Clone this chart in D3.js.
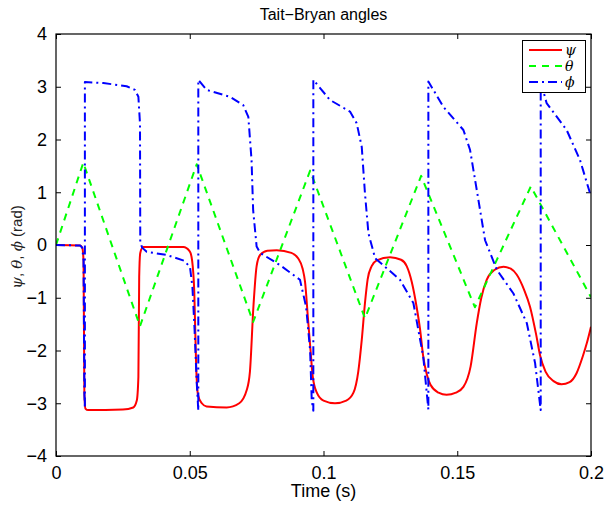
<!DOCTYPE html>
<html>
<head>
<meta charset="utf-8">
<script src="https://cdn.jsdelivr.net/npm/d3@7"></script>
<style>
  body { margin: 0; background: #fff; }
  text { font-family: "Liberation Sans", Arial, sans-serif; }
</style>
</head>
<body>
<div id="chart"></div>
<script>
const title = "Tait\u2212Bryan angles";
const xLabel = "Time (s)";
const xTicks = [0, 0.05, 0.1, 0.15, 0.2];
const yTicks = [-4, -3, -2, -1, 0, 1, 2, 3, 4];
const seriesNames = ["\u03c8", "\u03b8", "\u03d5"];

// psi (red solid) [t, rad]
const psi = [
  [0, 0], [0.009, -0.01], [0.0098, -0.05], [0.0103, -0.3], [0.0106, -2.8], [0.011, -3.1],
  [0.012, -3.13], [0.025, -3.12], [0.0289, -3.08], [0.0302, -2.95], [0.0308, -2.5],
  [0.0311, -0.6], [0.0315, -0.15], [0.0326, -0.04], [0.0476, -0.04], [0.05, -0.12],
  [0.0509, -0.3], [0.0517, -0.9], [0.0524, -2.3], [0.0531, -2.85], [0.0545, -3.0],
  [0.0563, -3.06], [0.0638, -3.08], [0.0685, -3.0], [0.0713, -2.75], [0.0725, -2.4],
  [0.0738, -1.17], [0.075, -0.4], [0.0763, -0.19], [0.079, -0.11], [0.0825, -0.1],
  [0.088, -0.15], [0.0905, -0.25], [0.0922, -0.45], [0.0931, -0.7], [0.0942, -1.4],
  [0.095, -1.9], [0.096, -2.5], [0.0975, -2.8], [0.1, -2.95], [0.1043, -3.0],
  [0.1085, -2.95], [0.1112, -2.8], [0.113, -2.4], [0.1143, -1.8], [0.1155, -1.1],
  [0.1165, -0.65], [0.118, -0.4], [0.1199, -0.29], [0.1249, -0.23], [0.129, -0.28],
  [0.1311, -0.4], [0.133, -0.7], [0.1348, -1.17], [0.1361, -1.6], [0.1373, -2.12],
  [0.1386, -2.45], [0.14, -2.65], [0.143, -2.8], [0.146, -2.84], [0.1495, -2.8],
  [0.1523, -2.69], [0.155, -2.3], [0.1573, -1.48], [0.159, -1.0], [0.161, -0.66],
  [0.164, -0.47], [0.1673, -0.41], [0.17, -0.45], [0.1722, -0.56], [0.175, -0.85],
  [0.1772, -1.17], [0.1795, -1.7], [0.181, -2.1], [0.183, -2.4], [0.186, -2.58],
  [0.189, -2.64], [0.192, -2.6], [0.1946, -2.43], [0.197, -2.1], [0.1985, -1.85],
  [0.2, -1.55]
];

// theta (green dashed)
const theta = [
  [0, 0], [0.0102, 1.56], [0.0314, -1.54], [0.0526, 1.53], [0.0737, -1.46],
  [0.095, 1.41], [0.1155, -1.39], [0.1365, 1.31], [0.1566, -1.18], [0.1775, 1.11],
  [0.2, -0.99]
];

// phi (blue dash-dot), wraps at +/- pi
const phi = [
  [0, 0], [0.009, -0.01], [0.0098, -0.05], [0.0103, -0.3], [0.0106, -2.8], [0.0108, -3.1],
  [0.0108, 3.09], [0.0177, 3.07], [0.0264, 3.01], [0.0295, 2.94], [0.0308, 2.81],
  [0.0314, 2.3], [0.0315, 0.06], [0.0322, -0.05], [0.0339, -0.13], [0.0414, -0.19],
  [0.048, -0.3], [0.0501, -0.42], [0.051, -0.8], [0.0518, -1.6], [0.0526, -2.6],
  [0.0532, -3.14], [0.0532, 3.13], [0.0563, 2.94], [0.065, 2.81], [0.07, 2.65],
  [0.0719, 2.43], [0.0731, 1.61], [0.0737, 0.66], [0.075, -0.03], [0.0763, -0.15],
  [0.0837, -0.38], [0.0912, -0.66], [0.0935, -1.17], [0.095, -2.0], [0.0956, -2.94],
  [0.0962, -3.14], [0.0962, 3.13], [0.1024, 2.75], [0.1099, 2.53], [0.1124, 2.31],
  [0.1143, 1.86], [0.1155, 0.98], [0.1168, 0.22], [0.1193, -0.25], [0.1286, -0.66],
  [0.1336, -1.1], [0.1373, -2.12], [0.1392, -3.12], [0.1392, 3.1], [0.1448, 2.62],
  [0.1523, 2.18], [0.1548, 1.8], [0.1573, 1.04], [0.1604, 0.09], [0.1648, -0.47],
  [0.171, -0.92], [0.176, -1.48], [0.1791, -2.24], [0.1812, -3.13], [0.1812, 3.1],
  [0.1834, 2.69], [0.1909, 2.18], [0.1959, 1.61], [0.2, 0.92]
];

const width = 610, height = 505;
const margin = { top: 34, right: 19, bottom: 49, left: 56 };

const svg = d3.select("#chart").append("svg")
  .attr("width", width)
  .attr("height", height);

const x = d3.scaleLinear().domain([0, 0.2]).range([margin.left, width - margin.right]);
const y = d3.scaleLinear().domain([-4, 4]).range([height - margin.bottom, margin.top]);

svg.append("defs").append("clipPath").attr("id", "plot-clip")
  .append("rect")
  .attr("x", margin.left).attr("y", margin.top)
  .attr("width", x(0.2) - x(0)).attr("height", y(-4) - y(4));

const tickLen = 5;
const fmt = d => d === 0 ? "0" : String(d);
const minus = s => s.replace("-", "\u2212");

// axes with inward ticks on all four sides
svg.append("g")
  .attr("transform", `translate(0,${y(-4)})`)
  .call(d3.axisBottom(x).tickValues(xTicks).tickSizeInner(-tickLen).tickSizeOuter(0).tickPadding(10).tickFormat(fmt))
  .call(g => g.select(".domain").remove());
svg.append("g")
  .attr("transform", `translate(0,${y(4)})`)
  .call(d3.axisTop(x).tickValues(xTicks).tickSizeInner(-tickLen).tickSizeOuter(0).tickFormat(""))
  .call(g => g.select(".domain").remove());
svg.append("g")
  .attr("transform", `translate(${x(0)},0)`)
  .call(d3.axisLeft(y).tickValues(yTicks).tickSizeInner(-tickLen).tickSizeOuter(0).tickPadding(9).tickFormat(d => minus(String(d))))
  .call(g => g.select(".domain").remove());
svg.append("g")
  .attr("transform", `translate(${x(0.2)},0)`)
  .call(d3.axisRight(y).tickValues(yTicks).tickSizeInner(-tickLen).tickSizeOuter(0).tickFormat(""))
  .call(g => g.select(".domain").remove());

svg.selectAll(".tick text")
  .attr("font-size", 18)
  .attr("fill", "#000")
  .style("font-family", "'Liberation Sans', Arial, sans-serif");
svg.selectAll(".tick line").attr("stroke", "#000");

const plot = svg.append("g").attr("clip-path", "url(#plot-clip)");

const styles = [
  { data: psi, color: "#ff0000", dash: null, curve: d3.curveMonotoneX },
  { data: theta, color: "#00ff00", dash: "7,6", curve: d3.curveLinear },
  { data: phi, color: "#0000ff", dash: "9,4,2,4", curve: d3.curveLinear }
];

styles.forEach(s => {
  const line = d3.line().x(d => x(d[0])).y(d => y(d[1])).curve(s.curve);
  plot.append("path")
    .datum(s.data)
    .attr("fill", "none")
    .attr("stroke", s.color)
    .attr("stroke-width", 2)
    .attr("stroke-dasharray", s.dash)
    .attr("stroke-linejoin", "round")
    .attr("d", line);
});

// frame
svg.append("rect")
  .attr("x", x(0)).attr("y", y(4))
  .attr("width", x(0.2) - x(0)).attr("height", y(-4) - y(4))
  .attr("fill", "none").attr("stroke", "#000").attr("stroke-width", 1.2);

// title and labels
svg.append("text")
  .attr("x", (x(0) + x(0.2)) / 2).attr("y", 20)
  .attr("text-anchor", "middle").attr("font-size", 16)
  .text(title);

svg.append("text")
  .attr("x", (x(0) + x(0.2)) / 2).attr("y", 497)
  .attr("text-anchor", "middle").attr("font-size", 18)
  .text(xLabel);

const yl = svg.append("text")
  .attr("transform", "translate(22,247) rotate(-90)")
  .attr("text-anchor", "middle").attr("font-size", 15).attr("fill", "#222");
seriesNames.forEach((n, i) => {
  yl.append("tspan").text(n)
    .style("font-family", "'DejaVu Serif', 'Liberation Serif', serif")
    .style("font-style", "italic");
  yl.append("tspan").text(i < seriesNames.length - 1 ? ", " : " (rad)");
});

// legend
const lg = svg.append("g");
lg.append("rect")
  .attr("x", 522.5).attr("y", 40.5).attr("width", 63).attr("height", 52)
  .attr("fill", "#fff").attr("stroke", "#000").attr("stroke-width", 1);
styles.forEach((s, i) => {
  const ly = 50 + i * 16;
  lg.append("line")
    .attr("x1", 529).attr("x2", 562).attr("y1", ly).attr("y2", ly)
    .attr("stroke", s.color).attr("stroke-width", 2)
    .attr("stroke-dasharray", s.dash);
  lg.append("text")
    .attr("x", 565).attr("y", ly + 5)
    .attr("font-size", 14)
    .style("font-family", "'DejaVu Serif', 'Liberation Serif', serif")
    .style("font-style", "italic")
    .text(seriesNames[i]);
});
</script>
</body>
</html>
